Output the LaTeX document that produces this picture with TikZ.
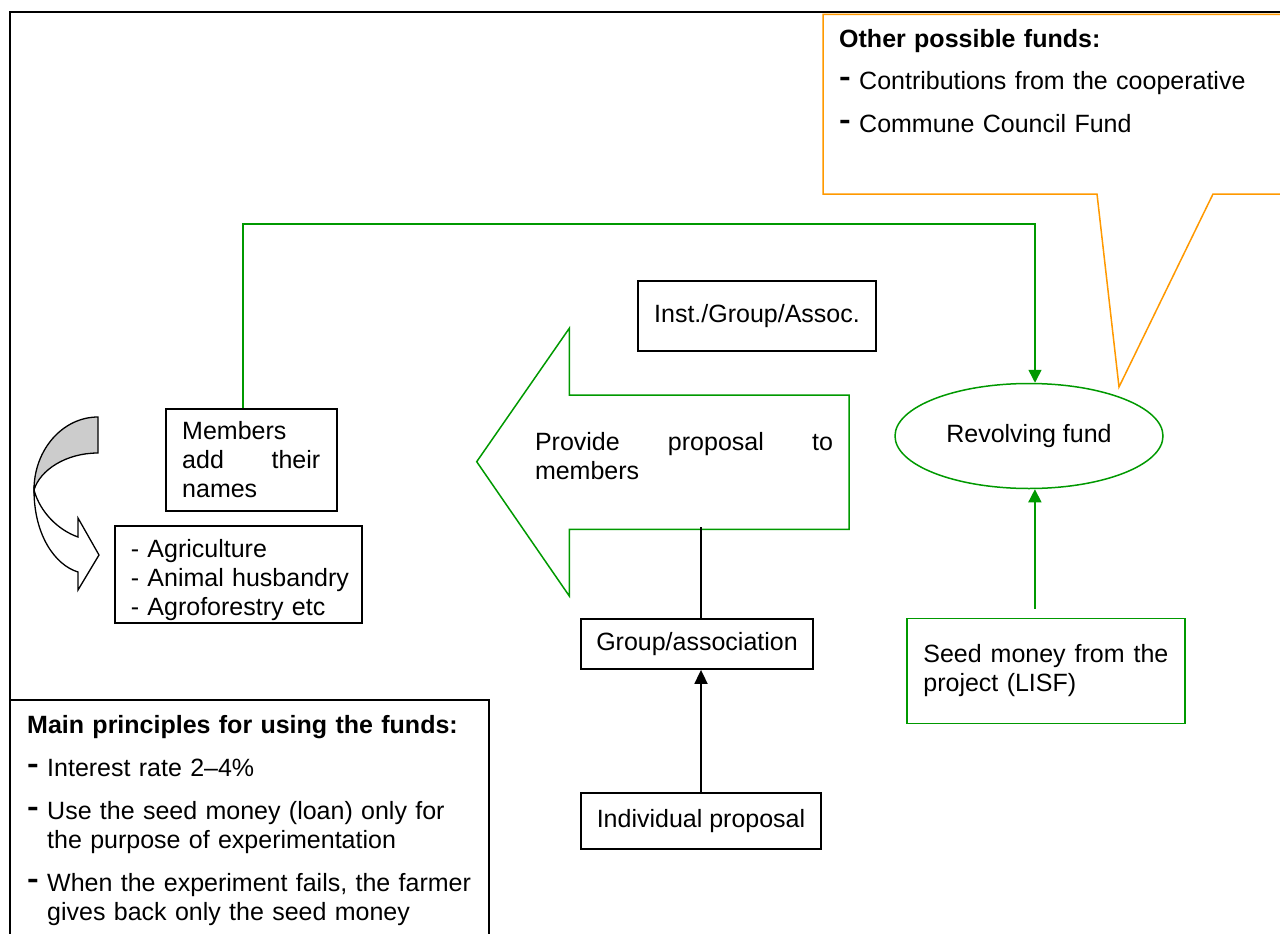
\documentclass[tikz,border=0pt]{standalone}
\usepackage{fontspec}
\setmainfont{Liberation Sans}
\usepackage{tikz}
\usetikzlibrary{arrows.meta,shapes.geometric,positioning}
\definecolor{fundgreen}{RGB}{0,153,0}
\definecolor{fundorange}{RGB}{255,153,0}
\newcommand{\itemdash}{\makebox[20pt][l]{\raisebox{3pt}{\scalebox{1.4}[1.15]{\textbf{-}}}}}
\newcommand{\itemgap}{\hspace*{20pt}}

\begin{document}
\begin{tikzpicture}[x=1pt,y=-1pt,
every node/.style={font=\fontsize{25pt}{29pt}\selectfont},
box/.style={draw,line width=1.8pt,inner sep=0pt},
gbox/.style={draw=fundgreen,line width=1.5pt,inner sep=0pt},
flow/.style={fundgreen,line width=1.5pt,-{Triangle[length=13pt,width=13pt]}},
bflow/.style={line width=1.8pt,-{Triangle[length=14pt,width=13pt]}}]
\useasboundingbox (0,0) rectangle (1280,934);
\draw[line width=2pt](10,960)--(10,12.5)--(1290,12.5);
%% callout
\draw[fundorange,line width=1.5pt,fill=white](1290,14.5)--(823,14.5)--(823,194)--(1097,194)--(1119,387)--(1213,194)--(1290,194);
\node[anchor=north west,inner sep=0pt,text width=430pt,align=left](others) at (839,29.5){\textbf{Other possible funds:}\\[13pt]\itemdash Contributions from the cooperative\\[14pt]\itemdash Commune Council Fund};
%% principles
\draw[line width=1.8pt](10,960)--(10,700)--(489,700)--(489,960);
\node[anchor=north west,inner sep=0pt,text width=460pt,align=left](rules) at (27,715){\textbf{Main principles for using the funds:}\\[14pt]\itemdash Interest rate 2--4\%\\[14pt]\itemdash Use the seed money (loan) only for\\\itemgap the purpose of experimentation\\[14pt]\itemdash When the experiment fails, the farmer\\\itemgap gives back only the seed money};
%% curved arrow
\draw[line width=1.3pt,fill=gray!40](98,417)..controls(62.7,417)and(34,449.7)..(34,490)..controls(40,470)and(66,453)..(98,453)--cycle;
\draw[line width=1.3pt,fill=white](34,490)..controls(34,535)and(55,565)..(78,572)--(78,590)--(99,555)--(78,518)--(78,537)..controls(58,530)and(40,512)..(34,490)--cycle;
%% boxes
\node[box,minimum width=171pt,minimum height=102pt,text width=138pt,align=left](members) at (251.2,460){Members\\add\hfill their\\names};
\node[box,minimum width=247pt,minimum height=97pt,text width=215pt,align=left](sectors) at (238.3,574.5){\rule{0pt}{30pt}\mbox{- Agriculture}\\\mbox{- Animal husbandry}\\\mbox{- Agroforestry etc}};
\node[box,minimum width=238pt,minimum height=70pt](inst) at (757,316){Inst./Group/Assoc.};
\draw[fundgreen,line width=1.5pt](476.7,461.7)--(569.3,328.3)--(569.3,395)--(849,395)--(849,529.3)--(569.3,529.3)--(569.3,596)--cycle;
\node[text width=298pt,align=left,inner sep=0pt](offer) at (684,456){Provide\hfill proposal\hfill to\\members};
\coordinate(offerfoot) at (701,527);
\node[box,minimum width=232.6pt,minimum height=50pt](group) at (697,644){Group/association};
\node[box,minimum width=240pt,minimum height=56pt](single) at (701,821){Individual proposal};
\node[ellipse,draw=fundgreen,line width=1.5pt,minimum width=268pt,minimum height=105pt,inner sep=0pt](fund) at (1029,436){Revolving fund};
\node[gbox,minimum width=278pt,minimum height=105pt,text width=245pt,align=left](seed) at (1045.9,671){Seed\hfill money\hfill from\hfill the\\project (LISF)};
%% connectors
\draw[line width=1.8pt](offerfoot)--(offerfoot|-group.north);
\draw[bflow](single.north)--(single.north|-group.south);
\coordinate(corner) at (1035,224);
\draw[flow]([xshift=-8pt]members.north)|-(corner)--(corner|-fund.north);
\draw[flow]([xshift=-11pt,yshift=9pt]seed.north)--([xshift=-11pt]seed.north|-fund.south);
\end{tikzpicture}
\end{document}
